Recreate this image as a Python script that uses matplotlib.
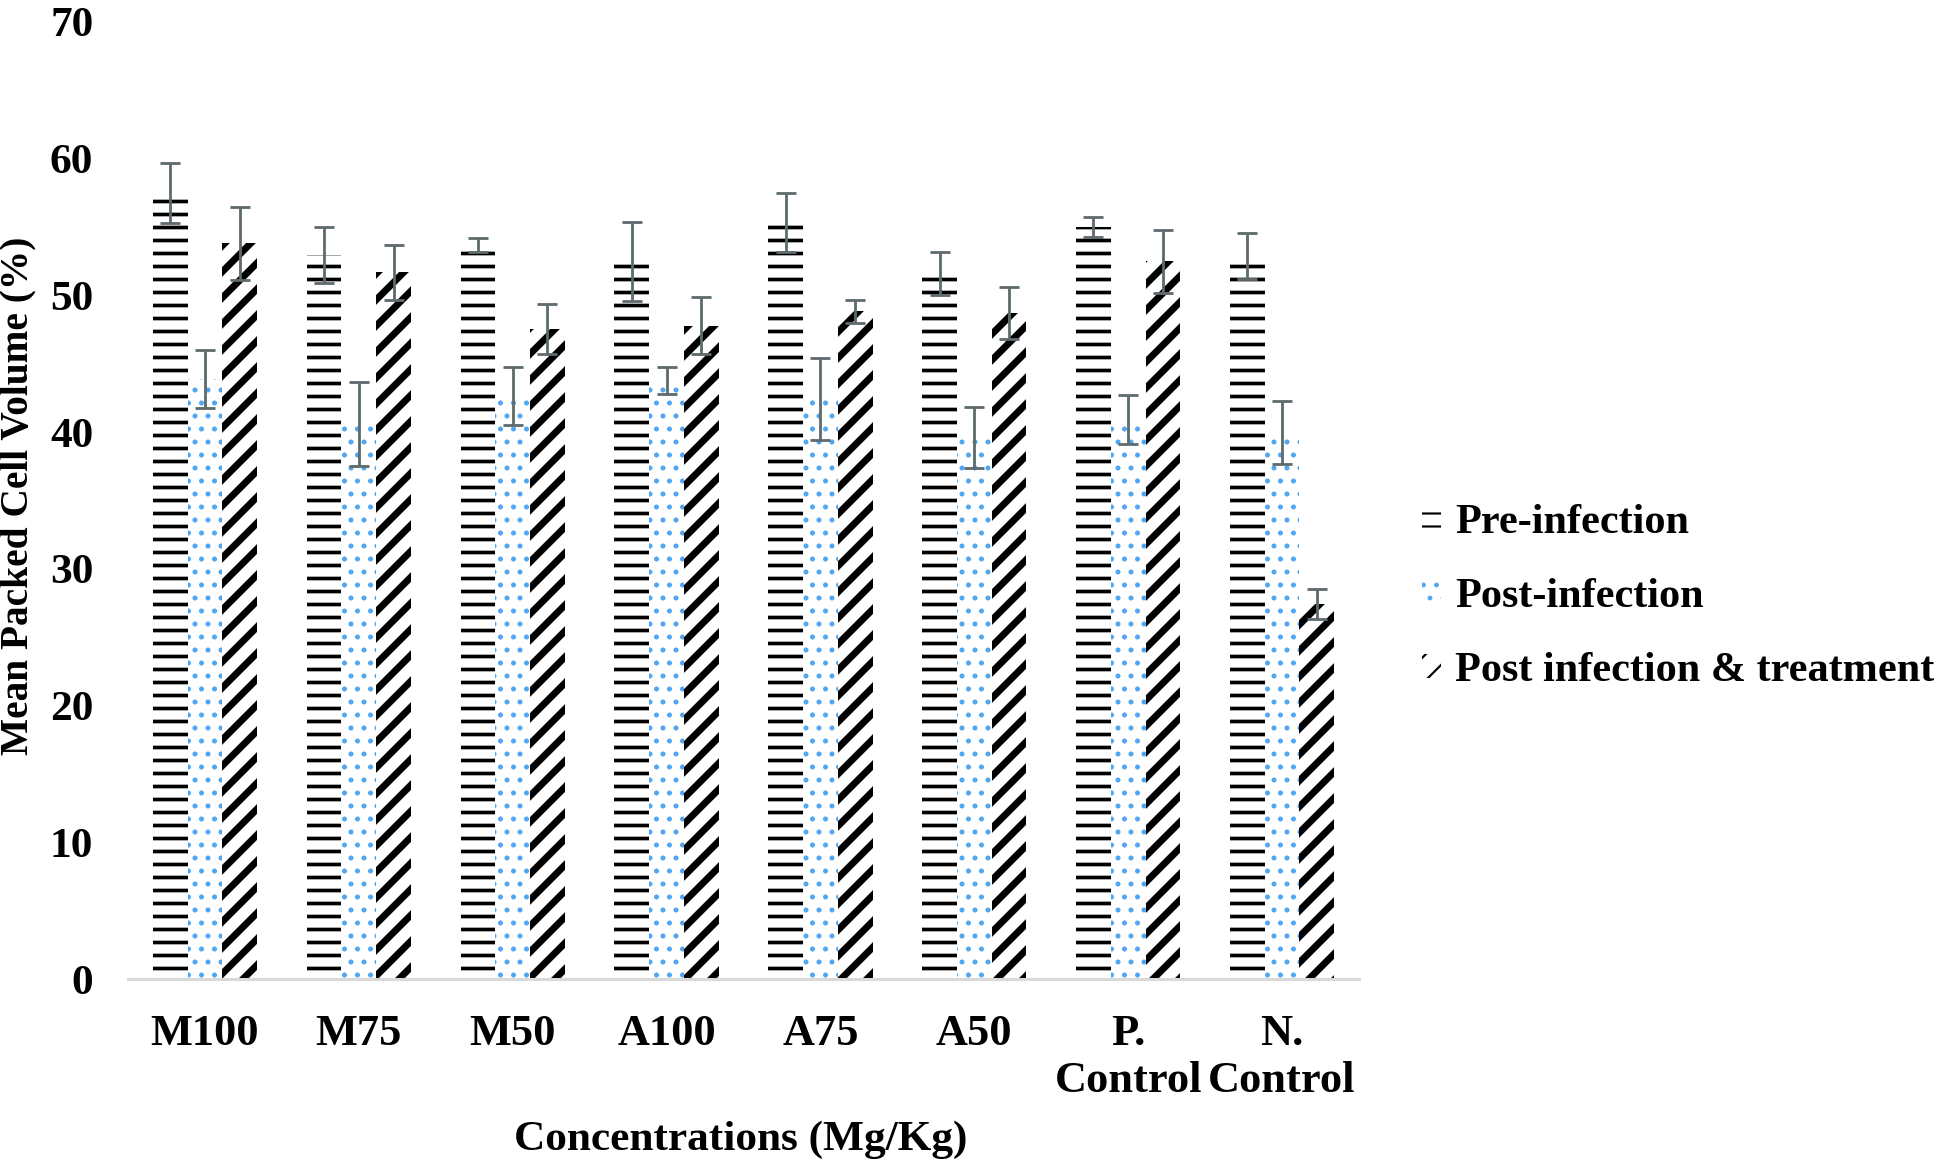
import matplotlib
matplotlib.use("Agg")
import matplotlib.pyplot as plt
import numpy as np

categories = ["M100", "M75", "M50", "A100", "A75", "A50", "P.\nControl", "N.\nControl"]
series_names = ["Pre-infection", "Post-infection", "Post infection & treatment"]
pre = [57.5, 52.95, 53.7, 52.5, 55.35, 51.6, 55.0, 52.9]
pre_err = [2.2, 2.05, 0.5, 2.9, 2.15, 1.55, 0.73, 1.7]
post = [43.9, 40.6, 42.65, 43.8, 42.4, 39.6, 40.9, 40.0]
post_err = [2.1, 3.1, 2.15, 1.0, 3.0, 2.25, 1.8, 2.3]
treat = [53.8, 51.7, 47.55, 47.8, 48.85, 48.7, 52.5, 27.4]
treat_err = [2.7, 2.0, 1.8, 2.1, 0.85, 1.9, 2.3, 1.1]
yticks = [0, 10, 20, 30, 40, 50, 60, 70]

DPI = 156
fig = plt.figure(figsize=(1946 / DPI, 1164 / DPI), dpi=DPI)
ax = fig.add_axes([128 / 1946, 1 - 979 / 1164, (1359 - 128) / 1946, (979 - 22) / 1164])

serif = ["Liberation Serif", "DejaVu Serif"]
x = np.arange(len(categories))
w = 0.226
err_color = "#5f6b6d"
blue = "#4fa6f2"

styles = [
    dict(hatch="--", edgecolor="black", hlw=1.7),
    dict(hatch="..", edgecolor=blue, hlw=1.1),
    dict(hatch="//", edgecolor="black", hlw=3.2),
]
data = [(pre, pre_err), (post, post_err), (treat, treat_err)]
handles = []
for i, ((vals, errs), st) in enumerate(zip(data, styles)):
    with plt.rc_context({"hatch.linewidth": st["hlw"]}):
        bars = ax.bar(x + (i - 1) * w, vals, width=w, facecolor="white",
                      edgecolor=st["edgecolor"], linewidth=0, hatch=st["hatch"],
                      label=series_names[i], zorder=2)
        for b in bars:
            if hasattr(b, "set_hatch_linewidth"):
                b.set_hatch_linewidth(st["hlw"])
    ax.errorbar(x + (i - 1) * w, vals, yerr=errs, fmt="none", ecolor=err_color,
                elinewidth=1.3, capsize=4.8, capthick=1.3, zorder=3)
    handles.append(bars)

ax.set_xlim(-0.5, len(categories) - 0.5)
ax.set_ylim(0, 70)
ax.set_yticks(yticks)
ax.set_yticklabels([str(t) for t in yticks], fontfamily=serif, fontweight="bold", fontsize=20)
ax.set_xticks(x)
ax.set_xticklabels(categories, fontfamily=serif, fontweight="bold", fontsize=20.5, linespacing=1.25)
ax.tick_params(axis="both", length=0)
ax.tick_params(axis="y", pad=16)
ax.tick_params(axis="x", pad=16)
for s in ["top", "right", "left"]:
    ax.spines[s].set_visible(False)
ax.spines["bottom"].set_color("#d9d9d9")
ax.spines["bottom"].set_linewidth(1.4)

fig.text(18 / 1946, 1 - 496 / 1164, "Mean Packed Cell Volume (%)", rotation=90,
         ha="center", va="center", fontfamily=serif, fontweight="bold", fontsize=18.2)
fig.text(741 / 1946, 1 - 1140 / 1164, "Concentrations (Mg/Kg)",
         ha="center", va="center", fontfamily=serif, fontweight="bold", fontsize=20)

leg = fig.legend(handles=handles, labels=series_names, loc="center left",
                 bbox_to_anchor=(1422 / 1946, 1 - 597 / 1164), frameon=False,
                 prop=dict(family=serif, weight="bold", size=19.5),
                 handlelength=0.46, handleheight=0.5, handletextpad=0.33,
                 labelspacing=0.86, borderaxespad=0, borderpad=0)

fig.savefig("out.png", dpi=DPI)
